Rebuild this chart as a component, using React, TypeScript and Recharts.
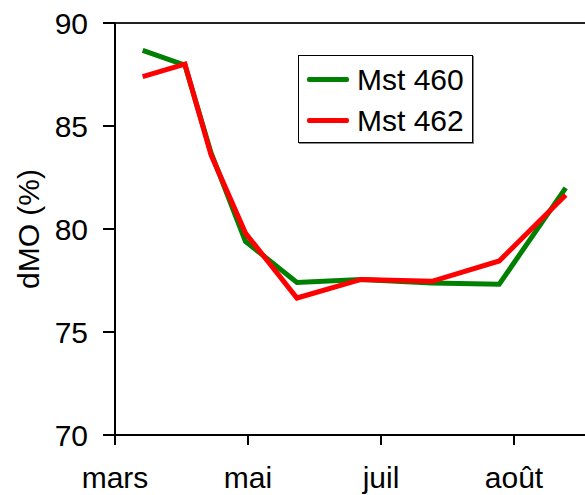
import React from 'react';
import { LineChart, Line, XAxis, YAxis, ReferenceLine, Label } from 'recharts';

const monthLabels = ['mars', 'mai', 'juil', 'août'];
const monthTicks = [0, 1, 2, 3];
const samplePositions = [0.208, 0.526, 0.722, 0.981, 1.368, 1.85, 2.383, 2.889, 3.389];
const mst460 = [88.67, 87.95, 83.7, 79.4, 77.4, 77.55, 77.38, 77.32, 82.0];
const mst462 = [87.4, 88.0, 83.6, 79.8, 76.65, 77.55, 77.46, 78.45, 81.65];
const yTicks = [70, 75, 80, 85, 90];
const seriesNames = ['Mst 460', 'Mst 462'];
const seriesColors = ['#008000', '#FF0000'];

const data = samplePositions.map((x, i) => ({ x, g: mst460[i], r: mst462[i] }));

const FONT = '"Liberation Sans", Arial, sans-serif';
const FS = 30;

const LegendBox = () => (
  <div
    style={{
      position: 'absolute',
      left: 298,
      top: 55,
      border: '1px solid #000',
      boxShadow: '1px 1px 0 #888',
      width: 175,
      height: 88,
      background: '#fff',
      boxSizing: 'border-box',
      fontFamily: FONT,
      fontSize: FS,
      color: '#000',
      paddingTop: 3,
    }}
  >
    {seriesNames.map((name, i) => (
      <div key={i} style={{ display: 'flex', alignItems: 'center', height: 41 }}>
        <div style={{ width: 42, height: 5, borderRadius: 2, background: seriesColors[i], marginLeft: 8, marginRight: 8 }} />
        <span style={{ lineHeight: '30px' }}>{name}</span>
      </div>
    ))}
  </div>
);

export default function App() {
  return (
    <div style={{ position: 'absolute', left: 0, top: 0, width: 585, height: 495, fontFamily: FONT }}>
      <LineChart width={585} height={495} data={data} margin={{ top: 23, right: 0, left: 0, bottom: 0 }}>
        <XAxis
          type="number"
          dataKey="x"
          domain={[0, 3.534]}
          ticks={monthTicks}
          tickFormatter={(v: number) => monthLabels[v]}
          height={60}
          tickSize={10}
          tickMargin={22}
          stroke="#000"
          strokeWidth={2}
          tick={{ fill: '#000', fontSize: FS, fontFamily: FONT }}
        />
        <YAxis
          type="number"
          domain={[70, 90]}
          ticks={yTicks}
          width={115}
          tickSize={12}
          tickMargin={15}
          stroke="#000"
          strokeWidth={2}
          tick={{ fill: '#000', fontSize: FS, fontFamily: FONT }}
        >
          <Label
            content={() => (
              <text
                x={28}
                y={229}
                transform="rotate(-90 28 229)"
                textAnchor="middle"
                dominantBaseline="central"
                fontSize={FS}
                fontFamily={FONT}
                fill="#000"
              >
                dMO (%)
              </text>
            )}
          />
        </YAxis>
        <ReferenceLine y={90} stroke="#222" strokeWidth={2} />
        <Line type="linear" dataKey="g" name={seriesNames[0]} stroke={seriesColors[0]} strokeWidth={5} dot={false} isAnimationActive={false} />
        <Line type="linear" dataKey="r" name={seriesNames[1]} stroke={seriesColors[1]} strokeWidth={5} dot={false} isAnimationActive={false} />
      </LineChart>
      <LegendBox />
    </div>
  );
}
